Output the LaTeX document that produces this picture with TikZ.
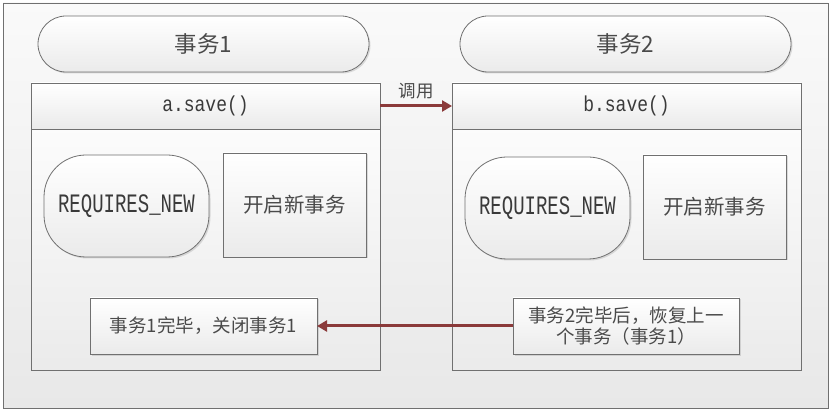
\documentclass[tikz,border=0pt]{standalone}
\usepackage{fontspec}
\setmainfont{Liberation Serif}
\newfontfamily\cjk{Noto Sans CJK SC}
\newfontfamily\mono{Liberation Mono}
\usetikzlibrary{arrows.meta,shadows}
\definecolor{edge}{HTML}{707070}
\definecolor{txt}{HTML}{3A3A3A}
\definecolor{ctxt}{HTML}{4A4A4A}
\definecolor{arr}{HTML}{8B3A3A}
\tikzset{
  base/.style={draw=edge, line width=0.8pt, inner sep=0pt, outer sep=0pt, text=txt,
    top color=white, bottom color=black!8, align=center},
  shad/.style={drop shadow={shadow xshift=1.5pt, shadow yshift=-1.5pt, opacity=0.25, fill=black!50}},
  frame/.style={base, minimum width=349pt, minimum height=287pt},
  header/.style={base, minimum width=349pt, minimum height=46pt, font=\mono\fontsize{18}{20}\selectfont},
  pill/.style={base, shad, rounded corners=28pt, minimum width=331pt, minimum height=56pt, text=ctxt, font=\cjk\fontsize{22.5}{26}\selectfont},
  reqbox/.style={base, shad, rounded corners=42pt, minimum width=165pt, minimum height=102pt, font=\mono\fontsize{19}{22}\selectfont},
  plainbox/.style={base, shad, minimum width=143pt, minimum height=104pt, text=ctxt, font=\cjk\fontsize{20.5}{24}\selectfont},
  endbox/.style={base, shad, minimum height=56pt, text=ctxt, font=\cjk\fontsize{18.5}{21}\selectfont},
  conn/.style={draw=arr, line width=3pt, -{Triangle[length=10pt,width=11pt]}}
}
\begin{document}
\begin{tikzpicture}[x=1pt,y=-1pt]
\useasboundingbox (0,0) rectangle (832,411);
\node[base, minimum width=825pt, minimum height=405pt, top color=black!2, bottom color=black!9] (outer) at (415.5,205.5) {};
% frames
\node[frame] (f1) at (205.5,226.5) {};
\node[frame] (f2) at (626.5,226.5) {};
\node[header] (h1) at (205.5,106) {\scalebox{1}[1.2]{a.save()}};
\node[header] (h2) at (626.5,106) {\scalebox{1}[1.2]{b.save()}};
% pills
\node[pill] (p1) at (203.5,44) {事务1};
\node[pill] (p2) at (625.5,44) {事务2};
% inner
\node[reqbox] (r1) at (126.5,206) {\scalebox{1}[1.4]{REQUIRES\_NEW}};
\node[plainbox] (b1) at (294.5,205) {开启新事务};
\node[reqbox] (r2) at (547.5,208) {\scalebox{1}[1.4]{REQUIRES\_NEW}};
\node[plainbox] (b2) at (714.5,207) {开启新事务};
\node[endbox, minimum width=227pt] (e1) at (203.5,326) {事务1完毕，关闭事务1};
\node[endbox, minimum width=226pt] (e2) at (626,326) {事务2完毕后，恢复上一\\个事务（事务1）};
% connectors
\draw[conn] (h1.east) -- node[above=2pt, text=ctxt, font=\cjk\fontsize{17.5}{20}\selectfont] {调用} (h2.west);
\draw[conn] (e2.west) -- (e1.east);
\end{tikzpicture}
\end{document}
